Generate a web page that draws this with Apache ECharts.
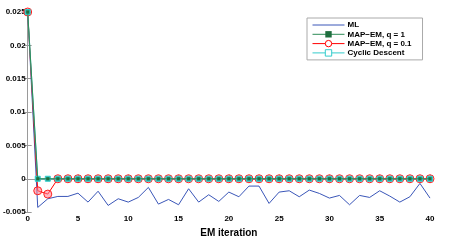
<!DOCTYPE html>
<html><head><meta charset="utf-8">
<script src="https://cdn.jsdelivr.net/npm/echarts@6/dist/echarts.min.js"></script>
<style>html,body{margin:0;padding:0;background:#fff}#c{width:449px;height:243px}</style>
</head><body><div id="c"></div>
<script>
const iterations = [0,1,2,3,4,5,6,7,8,9,10,11,12,13,14,15,16,17,18,19,20,21,22,23,24,25,26,27,28,29,30,31,32,33,34,35,36,37,38,39,40];
const mlValues = [0.025,-0.0043,-0.003,-0.00265,-0.00265,-0.00216,-0.0035,-0.00187,-0.004,-0.003,-0.0035,-0.0028,-0.0013,-0.0038,-0.0031,-0.0039,-0.0015,-0.0035,-0.0024,-0.0034,-0.002,-0.0027,-0.0011,-0.0011,-0.0037,-0.002,-0.0018,-0.0027,-0.0017,-0.0022,-0.0029,-0.0025,-0.0039,-0.0025,-0.0028,-0.0018,-0.0026,-0.0035,-0.0027,-0.0007,-0.0029];
const mapQ1Values = [0.025,0,0,0,0,0,0,0,0,0,0,0,0,0,0,0,0,0,0,0,0,0,0,0,0,0,0,0,0,0,0,0,0,0,0,0,0,0,0,0,0];
const mapQ01Values = [0.025,-0.0018,-0.0023,0,0,0,0,0,0,0,0,0,0,0,0,0,0,0,0,0,0,0,0,0,0,0,0,0,0,0,0,0,0,0,0,0,0,0,0,0,0];
const cyclicValues = [0.025,0,0,0,0,0,0,0,0,0,0,0,0,0,0,0,0,0,0,0,0,0,0,0,0,0,0,0,0,0,0,0,0,0,0,0,0,0,0,0,0];
const seriesNames = ['ML','MAP\u2212EM, q = 1','MAP\u2212EM, q = 0.1','Cyclic Descent'];
const xTicks = {min:0,max:40,interval:5};
const yTicks = {min:-0.005,max:0.025,interval:0.005};
const xTitle = 'EM iteration';

const pairs = v => iterations.map((x,i)=>[x,v[i]]);
const chart = echarts.init(document.getElementById('c'),null,{renderer:'canvas'});
const font = 'Liberation Sans, Arial, sans-serif';
const axisCommon = {
  axisLine:{show:true,lineStyle:{color:'#9a9a9a',width:1}},
  axisTick:{show:true,inside:true,length:4,lineStyle:{color:'#9a9a9a'}},
  splitLine:{show:false}
};
chart.setOption({
  animation:false,
  grid:{left:24,right:19,top:12,bottom:26,show:false},
  legend:{
    data:[
      {name:seriesNames[0],itemStyle:{opacity:0}},
      {name:seriesNames[1]},
      {name:seriesNames[2],itemStyle:{color:'#fff',borderColor:'#ff0000',borderWidth:1}},
      {name:seriesNames[3],itemStyle:{color:'#fff',borderColor:'#33cccc',borderWidth:1}}
    ],
    orient:'vertical',left:307,top:18,
    itemWidth:32,itemHeight:8,itemGap:1.3,
    padding:[3,11,3,5],
    lineStyle:{width:1},
    backgroundColor:'#fff',borderColor:'#aaa',borderWidth:1,borderRadius:0,
    textStyle:{fontFamily:font,fontWeight:'bold',fontSize:8,color:'#000',padding:[0,0,0,-2]}
  },
  xAxis:[
    Object.assign({type:'value',min:xTicks.min,max:xTicks.max,interval:xTicks.interval,
      name:xTitle,nameLocation:'middle',nameGap:15,
      nameTextStyle:{fontFamily:font,fontWeight:'bold',fontSize:10,color:'#000'},
      axisLabel:{fontFamily:font,fontWeight:'bold',fontSize:8,color:'#000',margin:3}},axisCommon),
    Object.assign({type:'value',position:'top',min:xTicks.min,max:xTicks.max,interval:xTicks.interval,
      axisLabel:{show:false}},axisCommon)
  ],
  yAxis:[
    Object.assign({type:'value',min:yTicks.min,max:yTicks.max,interval:yTicks.interval,
      axisLabel:{fontFamily:font,fontWeight:'bold',fontSize:8,color:'#000',margin:2}},axisCommon),
    Object.assign({type:'value',position:'right',min:yTicks.min,max:yTicks.max,interval:yTicks.interval,
      axisLabel:{show:false}},axisCommon)
  ],
  series:[
    {name:seriesNames[0],type:'line',data:pairs(mlValues),showSymbol:false,symbol:'none',
      lineStyle:{color:'#3a56b8',width:1},itemStyle:{color:'#3a56b8'},z:2},
    {name:seriesNames[1],type:'line',data:pairs(mapQ1Values),symbol:'rect',symbolSize:3,
      lineStyle:{color:'#2e8b57',width:1},itemStyle:{color:'#1f6e3e'},z:6},
    {name:seriesNames[2],type:'line',data:pairs(mapQ01Values),symbol:'circle',symbolSize:8,
      lineStyle:{color:'#ff0000',width:1},itemStyle:{color:'rgba(255,120,140,0.55)',borderColor:'#ff2020',borderWidth:1},z:3},
    {name:seriesNames[3],type:'line',data:pairs(cyclicValues),symbol:'rect',symbolSize:5,
      lineStyle:{color:'#33cccc',width:1},itemStyle:{color:'#2cb3a6',borderColor:'#33cccc',borderWidth:1},z:4}
  ]
});
</script></body></html>
